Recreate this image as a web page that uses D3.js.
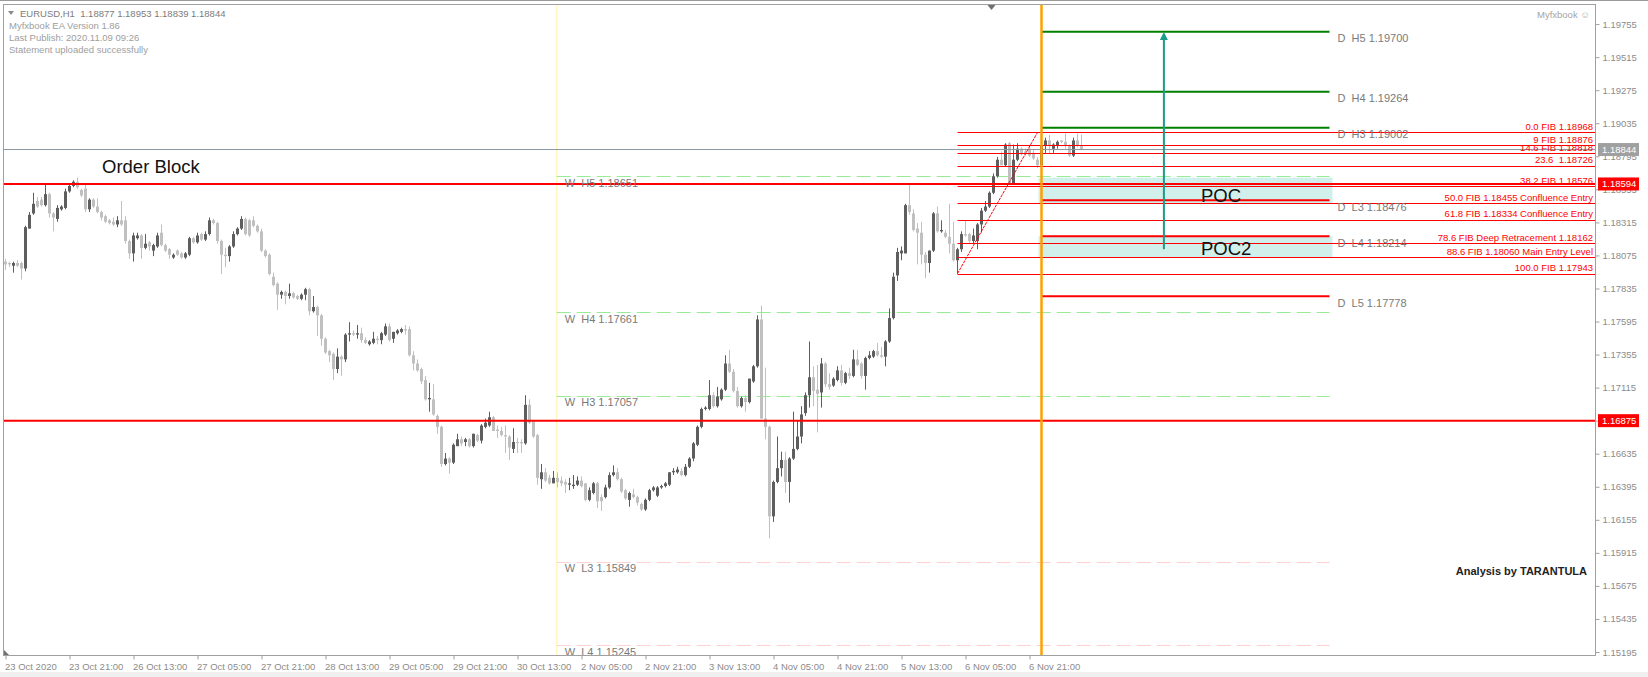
<!DOCTYPE html>
<html>
<head>
<meta charset="utf-8">
<script src="https://cdn.jsdelivr.net/npm/d3@7"></script>
<style>
  body { margin: 0; background: #fff; }
  svg { display: block; font-family: "Liberation Sans", Arial, sans-serif; }
  svg text { white-space: pre; }
</style>
</head>
<body>
<svg id="chart" width="1648" height="677"></svg>
<script>
// ---- data ----
const timeLabels = ["23 Oct 2020", "23 Oct 21:00", "26 Oct 13:00", "27 Oct 05:00", "27 Oct 21:00",
  "28 Oct 13:00", "29 Oct 05:00", "29 Oct 21:00", "30 Oct 13:00", "2 Nov 05:00", "2 Nov 21:00",
  "3 Nov 13:00", "4 Nov 05:00", "4 Nov 21:00", "5 Nov 13:00", "6 Nov 05:00", "6 Nov 21:00"];
const barsPerLabel = 16;

const priceTicks = [1.19755, 1.19515, 1.19275, 1.19035, 1.18795, 1.18555, 1.18315, 1.18075, 1.17835,
  1.17595, 1.17355, 1.17115, 1.16875, 1.16635, 1.16395, 1.16155, 1.15915, 1.15675, 1.15435, 1.15195];

// EURUSD H1, one row per bar: open, high, low, close
const candles = [
  [1.1803,1.1805,1.1797,1.1801],[1.1802,1.1803,1.1799,1.1801],[1.1800,1.1803,1.1795,1.1802],[1.1802,1.1804,1.1799,1.1800],
  [1.1802,1.1803,1.1790,1.1798],[1.1798,1.1829,1.1796,1.1828],[1.1827,1.1839,1.1827,1.1837],[1.1838,1.1853,1.1837,1.1845],
  [1.1847,1.1850,1.1842,1.1843],[1.1848,1.1850,1.1843,1.1844],[1.1844,1.1859,1.1843,1.1852],[1.1852,1.1853,1.1835,1.1838],
  [1.1838,1.1839,1.1825,1.1835],[1.1834,1.1844,1.1832,1.1842],[1.1841,1.1844,1.1840,1.1843],[1.1842,1.1856,1.1841,1.1854],
  [1.1854,1.1860,1.1853,1.1858],[1.1858,1.1862,1.1857,1.1861],[1.1861,1.1864,1.1856,1.1857],[1.1855,1.1856,1.1850,1.1851],
  [1.1856,1.1859,1.1839,1.1841],[1.1841,1.1849,1.1839,1.1848],[1.1848,1.1849,1.1842,1.1843],[1.1843,1.1849,1.1838,1.1839],
  [1.1839,1.1840,1.1833,1.1835],[1.1836,1.1837,1.1831,1.1832],[1.1833,1.1834,1.1830,1.1831],[1.1832,1.1835,1.1829,1.1830],
  [1.1830,1.1836,1.1828,1.1833],[1.1833,1.1847,1.1829,1.1830],[1.1833,1.1836,1.1816,1.1818],[1.1818,1.1819,1.1805,1.1809],
  [1.1809,1.1824,1.1803,1.1822],[1.1820,1.1824,1.1819,1.1822],[1.1822,1.1823,1.1805,1.1813],[1.1813,1.1823,1.1812,1.1816],
  [1.1817,1.1818,1.1811,1.1814],[1.1811,1.1816,1.1807,1.1815],[1.1814,1.1824,1.1813,1.1822],[1.1824,1.1830,1.1814,1.1815],
  [1.1815,1.1816,1.1810,1.1811],[1.1812,1.1813,1.1805,1.1808],[1.1806,1.1809,1.1805,1.1808],[1.1811,1.1812,1.1807,1.1808],
  [1.1809,1.1810,1.1805,1.1806],[1.1806,1.1810,1.1805,1.1809],[1.1808,1.1821,1.1807,1.1820],[1.1820,1.1821,1.1816,1.1817],
  [1.1817,1.1824,1.1816,1.1822],[1.1823,1.1824,1.1818,1.1819],[1.1819,1.1825,1.1818,1.1823],[1.1823,1.1835,1.1822,1.1833],
  [1.1833,1.1834,1.1830,1.1831],[1.1831,1.1832,1.1816,1.1818],[1.1818,1.1819,1.1794,1.1808],[1.1808,1.1813,1.1799,1.1807],
  [1.1807,1.1815,1.1803,1.1814],[1.1814,1.1825,1.1813,1.1823],[1.1823,1.1828,1.1822,1.1827],[1.1827,1.1836,1.1826,1.1834],
  [1.1834,1.1835,1.1822,1.1823],[1.1833,1.1834,1.1821,1.1822],[1.1833,1.1836,1.1828,1.1829],[1.1829,1.1830,1.1824,1.1825],
  [1.1825,1.1827,1.1810,1.1811],[1.1811,1.1812,1.1806,1.1807],[1.1808,1.1809,1.1793,1.1794],[1.1792,1.1795,1.1785,1.1786],
  [1.1787,1.1788,1.1768,1.1779],[1.1779,1.1782,1.1776,1.1781],[1.1781,1.1782,1.1772,1.1778],[1.1778,1.1787,1.1776,1.1780],
  [1.1780,1.1781,1.1776,1.1777],[1.1778,1.1779,1.1775,1.1776],[1.1776,1.1780,1.1775,1.1779],[1.1779,1.1784,1.1775,1.1783],
  [1.1783,1.1784,1.1764,1.1767],[1.1767,1.1778,1.1766,1.1770],[1.1770,1.1771,1.1749,1.1764],[1.1764,1.1765,1.1742,1.1747],
  [1.1747,1.1748,1.1736,1.1737],[1.1738,1.1739,1.1730,1.1735],[1.1736,1.1737,1.1717,1.1725],[1.1725,1.1740,1.1722,1.1734],
  [1.1734,1.1735,1.1720,1.1732],[1.1732,1.1751,1.1730,1.1750],[1.1750,1.1759,1.1745,1.1751],[1.1751,1.1753,1.1749,1.1750],
  [1.1750,1.1757,1.1747,1.1751],[1.1751,1.1755,1.1744,1.1746],[1.1746,1.1748,1.1743,1.1744],[1.1743,1.1746,1.1742,1.1745],
  [1.1744,1.1752,1.1743,1.1747],[1.1747,1.1749,1.1743,1.1746],[1.1746,1.1752,1.1743,1.1751],[1.1750,1.1758,1.1749,1.1756],
  [1.1756,1.1758,1.1745,1.1746],[1.1747,1.1752,1.1744,1.1752],[1.1751,1.1754,1.1750,1.1753],[1.1752,1.1755,1.1751,1.1754],
  [1.1754,1.1757,1.1750,1.1753],[1.1754,1.1756,1.1734,1.1735],[1.1735,1.1738,1.1724,1.1729],[1.1729,1.1732,1.1723,1.1724],
  [1.1725,1.1726,1.1714,1.1716],[1.1717,1.1720,1.1702,1.1703],[1.1703,1.1715,1.1694,1.1704],[1.1703,1.1714,1.1691,1.1692],
  [1.1691,1.1692,1.1678,1.1683],[1.1683,1.1684,1.1654,1.1656],[1.1656,1.1664,1.1655,1.1660],[1.1660,1.1661,1.1649,1.1657],
  [1.1657,1.1671,1.1656,1.1670],[1.1669,1.1678,1.1669,1.1674],[1.1674,1.1676,1.1669,1.1671],[1.1672,1.1675,1.1669,1.1674],
  [1.1674,1.1675,1.1668,1.1669],[1.1669,1.1678,1.1668,1.1678],[1.1677,1.1678,1.1672,1.1673],[1.1673,1.1685,1.1671,1.1684],
  [1.1683,1.1689,1.1682,1.1686],[1.1684,1.1694,1.1683,1.1690],[1.1690,1.1691,1.1680,1.1680],[1.1681,1.1684,1.1675,1.1680],
  [1.1680,1.1683,1.1676,1.1677],[1.1677,1.1684,1.1664,1.1676],[1.1676,1.1677,1.1659,1.1668],[1.1667,1.1682,1.1664,1.1672],
  [1.1672,1.1675,1.1664,1.1672],[1.1672,1.1674,1.1664,1.1671],[1.1671,1.1706,1.1670,1.1699],[1.1699,1.1703,1.1685,1.1686],
  [1.1687,1.1688,1.1675,1.1676],[1.1677,1.1678,1.1641,1.1646],[1.1645,1.1656,1.1638,1.1650],[1.1650,1.1653,1.1643,1.1644],
  [1.1646,1.1648,1.1641,1.1642],[1.1642,1.1651,1.1642,1.1646],[1.1646,1.1650,1.1639,1.1643],[1.1644,1.1647,1.1640,1.1642],
  [1.1643,1.1645,1.1635,1.1641],[1.1641,1.1646,1.1637,1.1642],[1.1640,1.1648,1.1638,1.1641],[1.1641,1.1647,1.1640,1.1644],
  [1.1644,1.1647,1.1639,1.1640],[1.1642,1.1642,1.1629,1.1630],[1.1630,1.1639,1.1629,1.1637],[1.1635,1.1643,1.1634,1.1642],
  [1.1642,1.1643,1.1624,1.1629],[1.1632,1.1634,1.1622,1.1629],[1.1632,1.1641,1.1631,1.1639],[1.1639,1.1650,1.1638,1.1648],
  [1.1648,1.1655,1.1647,1.1650],[1.1650,1.1653,1.1644,1.1645],[1.1645,1.1646,1.1635,1.1636],[1.1637,1.1638,1.1630,1.1631],
  [1.1630,1.1636,1.1625,1.1635],[1.1634,1.1638,1.1631,1.1632],[1.1632,1.1633,1.1626,1.1628],[1.1627,1.1628,1.1622,1.1623],
  [1.1623,1.1631,1.1622,1.1630],[1.1630,1.1638,1.1629,1.1637],[1.1637,1.1640,1.1636,1.1639],[1.1633,1.1640,1.1632,1.1639],
  [1.1639,1.1641,1.1638,1.1640],[1.1640,1.1643,1.1639,1.1642],[1.1641,1.1650,1.1640,1.1650],[1.1650,1.1653,1.1648,1.1651],
  [1.1650,1.1654,1.1649,1.1652],[1.1651,1.1653,1.1647,1.1648],[1.1648,1.1656,1.1647,1.1654],[1.1654,1.1661,1.1653,1.1660],
  [1.1660,1.1672,1.1658,1.1671],[1.1670,1.1684,1.1669,1.1683],[1.1683,1.1697,1.1682,1.1696],[1.1696,1.1698,1.1695,1.1697],
  [1.1696,1.1717,1.1695,1.1706],[1.1706,1.1708,1.1697,1.1698],[1.1698,1.1712,1.1697,1.1705],[1.1703,1.1711,1.1702,1.1710],
  [1.1710,1.1735,1.1709,1.1729],[1.1729,1.1739,1.1722,1.1723],[1.1723,1.1725,1.1708,1.1709],[1.1709,1.1712,1.1697,1.1698],
  [1.1698,1.1705,1.1697,1.1704],[1.1704,1.1706,1.1694,1.1701],[1.1701,1.1718,1.1700,1.1718],[1.1716,1.1728,1.1715,1.1727],
  [1.1727,1.1764,1.1726,1.1761],[1.1761,1.1771,1.1689,1.1689],[1.1689,1.1726,1.1674,1.1683],[1.1683,1.1684,1.1602,1.1618],
  [1.1618,1.1644,1.1614,1.1643],[1.1643,1.1676,1.1642,1.1653],[1.1653,1.1665,1.1647,1.1659],[1.1659,1.1665,1.1635,1.1643],
  [1.1643,1.1661,1.1628,1.1660],[1.1660,1.1694,1.1659,1.1667],[1.1667,1.1688,1.1666,1.1676],[1.1676,1.1698,1.1671,1.1692],
  [1.1693,1.1708,1.1691,1.1706],[1.1706,1.1745,1.1697,1.1719],[1.1719,1.1727,1.1698,1.1709],[1.1710,1.1728,1.1679,1.1707],
  [1.1708,1.1733,1.1697,1.1729],[1.1729,1.1730,1.1712,1.1714],[1.1714,1.1722,1.1710,1.1712],[1.1713,1.1719,1.1712,1.1718],
  [1.1717,1.1727,1.1716,1.1724],[1.1724,1.1728,1.1713,1.1715],[1.1715,1.1723,1.1714,1.1722],[1.1722,1.1726,1.1718,1.1720],
  [1.1720,1.1739,1.1719,1.1732],[1.1732,1.1739,1.1727,1.1728],[1.1729,1.1730,1.1718,1.1720],[1.1720,1.1734,1.1710,1.1733],
  [1.1733,1.1738,1.1732,1.1735],[1.1734,1.1739,1.1733,1.1738],[1.1738,1.1744,1.1734,1.1735],[1.1735,1.1741,1.1733,1.1734],
  [1.1734,1.1746,1.1727,1.1745],[1.1745,1.1769,1.1744,1.1762],[1.1762,1.1795,1.1761,1.1792],[1.1793,1.1813,1.1789,1.1810],
  [1.1809,1.1814,1.1804,1.1811],[1.1809,1.1845,1.1809,1.1844],[1.1844,1.1859,1.1837,1.1839],[1.1838,1.1841,1.1825,1.1826],
  [1.1827,1.1831,1.1801,1.1824],[1.1824,1.1832,1.1801,1.1808],[1.1808,1.1810,1.1791,1.1802],[1.1802,1.1811,1.1795,1.1811],
  [1.1811,1.1839,1.1810,1.1838],[1.1838,1.1843,1.1824,1.1825],[1.1825,1.1833,1.1824,1.1826],[1.1824,1.1826,1.1820,1.1821],
  [1.1821,1.1845,1.1809,1.1816],[1.1816,1.1832,1.1803,1.1804],[1.1804,1.1813,1.17943,1.1812],[1.1812,1.1825,1.1810,1.1823],
  [1.1823,1.1833,1.1821,1.1822],[1.1823,1.1824,1.1816,1.1818],[1.1818,1.1827,1.1816,1.1822],[1.1818,1.1831,1.1812,1.1830],
  [1.1830,1.1842,1.1824,1.1840],[1.1840,1.1847,1.1839,1.1843],[1.1843,1.1854,1.1842,1.1853],[1.1853,1.1867,1.1852,1.1865],
  [1.1865,1.1879,1.1864,1.1877],[1.1877,1.1883,1.1873,1.1873],[1.1873,1.1889,1.1872,1.1888],[1.1889,1.1890,1.1859,1.1860],
  [1.1860,1.1888,1.1859,1.1877],[1.1877,1.1889,1.1876,1.1885],[1.1885,1.1886,1.1880,1.1881],[1.1883,1.1885,1.1880,1.1881],
  [1.1885,1.1887,1.1879,1.1880],[1.1882,1.1884,1.1877,1.1878],[1.1877,1.1879,1.1871,1.1873],[1.1873,1.1889,1.1872,1.1887],
  [1.1887,1.1893,1.1882,1.1891],[1.1891,1.1895,1.1882,1.1887],[1.1885,1.1889,1.1882,1.1888],[1.1887,1.1891,1.1885,1.1890],
  [1.1891,1.1891,1.1889,1.1890],[1.1890,1.1896,1.1885,1.1887],[1.1887,1.1888,1.1879,1.1880],[1.1880,1.1893,1.1879,1.1891],
  [1.1891,1.1896,1.1886,1.1887],[1.18877,1.18953,1.18839,1.18844]
];

const headerLines = ["EURUSD,H1  1.18877 1.18953 1.18839 1.18844", "Myfxbook EA Version 1.86",
  "Last Publish: 2020.11.09 09:26", "Statement uploaded successfully"];
const bidPrice = 1.18844;
const keyLevels = [{ price: 1.18594, label: "Order Block" }, { price: 1.16875, label: "" }];

const weeklyPivots = [
  { name: "H5", price: 1.18651 }, { name: "H4", price: 1.17661 }, { name: "H3", price: 1.17057 },
  { name: "L3", price: 1.15849 }, { name: "L4", price: 1.15245 }];
const dailyPivots = [
  { name: "H5", price: 1.19700 }, { name: "H4", price: 1.19264 }, { name: "H3", price: 1.19002 },
  { name: "L3", price: 1.18476 }, { name: "L4", price: 1.18214 }, { name: "L5", price: 1.17778 }];

const fibLevels = [
  { price: 1.18968, label: "0.0 FIB 1.18968" }, { price: 1.18876, label: "9 FIB 1.18876" },
  { price: 1.18818, label: "14.6 FIB 1.18818" }, { price: 1.18726, label: "23.6  1.18726" },
  { price: 1.18576, label: "38.2 FIB 1.18576" }, { price: 1.18455, label: "50.0 FIB 1.18455 Confluence Entry" },
  { price: 1.18334, label: "61.8 FIB 1.18334 Confluence Entry" }, { price: 1.18162, label: "78.6 FIB Deep Retracement 1.18162" },
  { price: 1.18060, label: "88.6 FIB 1.18060 Main Entry Level" }, { price: 1.17943, label: "100.0 FIB 1.17943" }];
const fibAnchor = { fromBar: 238, fromPrice: 1.17943, toBar: 258, toPrice: 1.18968 };

const pocZones = [{ label: "POC", top: 1.18640, bottom: 1.18450 }, { label: "POC2", top: 1.18214, bottom: 1.18062 }];

const weekStartBar = 137.8, dayStartBar = 259, objectsEndBar = 331;
const arrowTrade = { bar: 289.6, from: 1.18120, to: 1.19690 };

// ---- drawing ----
const svg = d3.select("#chart");
const width = 1648, height = 677;
const plot = { left: 3, top: 4, right: 1595, bottom: 655 };

const x = d3.scaleLinear().domain([0, 256]).range([5.5, 1029.5]);
const y = d3.scaleLinear().domain([1.19755, 1.15195]).range([24.1, 652]);

svg.append("rect").attr("width", width).attr("height", height).attr("fill", "#fff");

svg.append("clipPath").attr("id", "plotClip")
  .append("rect")
  .attr("x", plot.left).attr("y", plot.top)
  .attr("width", plot.right - plot.left).attr("height", plot.bottom - plot.top);

const g = svg.append("g").attr("clip-path", "url(#plotClip)");

// week separator
g.append("line")
  .attr("x1", x(weekStartBar)).attr("x2", x(weekStartBar))
  .attr("y1", plot.top).attr("y2", plot.bottom)
  .attr("stroke", "#fff6c0").attr("stroke-width", 1.5);

// weekly pivots
g.selectAll(".wpiv").data(weeklyPivots).enter().append("line")
  .attr("x1", x(weekStartBar)).attr("x2", x(objectsEndBar))
  .attr("y1", d => Math.round(y(d.price)) + 0.5).attr("y2", d => Math.round(y(d.price)) + 0.5)
  .attr("stroke", d => d.name[0] == "H" ? "#98ec98" : "#ffd0d0")
  .attr("stroke-dasharray", "14,6");

// POC zones
g.selectAll(".poc").data(pocZones).enter().append("rect")
  .attr("x", x(dayStartBar) - 3).attr("width", x(objectsEndBar) - x(dayStartBar) + 6)
  .attr("y", d => y(d.top)).attr("height", d => y(d.bottom) - y(d.top))
  .attr("fill", "#d2f0eb");

// candles
const bar = g.selectAll(".candle").data(candles).enter().append("g");
bar.append("line")
  .attr("x1", (d, i) => x(i)).attr("x2", (d, i) => x(i))
  .attr("y1", d => y(d[1])).attr("y2", d => y(d[2]))
  .attr("stroke", d => d[3] > d[0] ? "#5e5e5e" : "#c0c0c0");
bar.append("rect")
  .attr("x", (d, i) => x(i) - 1.5).attr("width", 3)
  .attr("y", d => y(Math.max(d[0], d[3])))
  .attr("height", d => Math.max(1, Math.abs(y(d[0]) - y(d[3]))))
  .attr("fill", d => d[3] > d[0] ? "#5e5e5e" : "#c0c0c0");

// bid line
g.append("line")
  .attr("x1", plot.left).attr("x2", plot.right)
  .attr("y1", y(bidPrice)).attr("y2", y(bidPrice))
  .attr("stroke", "#8a96a3").attr("stroke-width", 1);

// key levels
g.selectAll(".key").data(keyLevels).enter().append("line")
  .attr("x1", plot.left).attr("x2", plot.right)
  .attr("y1", d => y(d.price)).attr("y2", d => y(d.price))
  .attr("stroke", "#ff0000").attr("stroke-width", 2);

// fibonacci
g.selectAll(".fib").data(fibLevels).enter().append("line")
  .attr("x1", x(fibAnchor.fromBar)).attr("x2", plot.right)
  .attr("y1", d => Math.round(y(d.price)) + 0.5).attr("y2", d => Math.round(y(d.price)) + 0.5)
  .attr("stroke", "#ff0000").attr("stroke-width", 1);
g.append("line")
  .attr("x1", x(fibAnchor.fromBar)).attr("y1", y(fibAnchor.fromPrice))
  .attr("x2", x(fibAnchor.toBar)).attr("y2", y(fibAnchor.toPrice))
  .attr("stroke", "#ff0000").attr("stroke-width", 1).attr("stroke-dasharray", "3,1");
g.selectAll(".fibtxt").data(fibLevels).enter().append("text")
  .attr("x", plot.right - 2).attr("y", d => y(d.price) - 2.5)
  .attr("text-anchor", "end").attr("fill", "#ff0000")
  .style("font-size", "9.5px").text(d => d.label);

// daily pivots
g.selectAll(".dpiv").data(dailyPivots).enter().append("line")
  .attr("x1", x(dayStartBar)).attr("x2", x(objectsEndBar))
  .attr("y1", d => y(d.price)).attr("y2", d => y(d.price))
  .attr("stroke", d => d.name[0] == "H" ? "#008000" : "#ff0000")
  .attr("stroke-width", 2);

// pivot labels
g.selectAll(".wlab").data(weeklyPivots).enter().append("text")
  .attr("x", x(weekStartBar) + 8).attr("y", d => y(d.price) + 10.5)
  .attr("fill", "#7a7a7a").style("font-size", "11px")
  .text(d => "W  " + d.name + " " + d.price.toFixed(5));
g.selectAll(".dlab").data(dailyPivots).enter().append("text")
  .attr("x", x(objectsEndBar) + 8).attr("y", d => y(d.price) + 10.5)
  .attr("fill", "#7a7a7a").style("font-size", "11px")
  .text(d => "D  " + d.name + " " + d.price.toFixed(5));

// POC labels
g.selectAll(".poclab").data(pocZones).enter().append("text")
  .attr("x", 1201).attr("y", d => y(d.bottom) - 2)
  .attr("fill", "#111").style("font-size", "18.5px").text(d => d.label);

// day separator
g.append("line")
  .attr("x1", x(dayStartBar)).attr("x2", x(dayStartBar))
  .attr("y1", plot.top).attr("y2", plot.bottom)
  .attr("stroke", "#ffa000").attr("stroke-width", 2.5);

// trade arrow
g.append("line")
  .attr("x1", x(arrowTrade.bar)).attr("x2", x(arrowTrade.bar))
  .attr("y1", y(arrowTrade.from)).attr("y2", y(arrowTrade.to) + 4)
  .attr("stroke", "#1a9c88").attr("stroke-width", 2);
g.append("path")
  .attr("d", `M${x(arrowTrade.bar)},${y(arrowTrade.to) - 1} l-4,8 l8,0 z`)
  .attr("fill", "#1a9c88");

// order block text
g.append("text").attr("x", 102).attr("y", 173)
  .attr("fill", "#111").style("font-size", "18.5px").text(keyLevels[0].label);

g.append("text").attr("x", 1587).attr("y", 575).attr("text-anchor", "end")
  .attr("fill", "#222").style("font-size", "11px").style("font-weight", "bold")
  .text("Analysis by TARANTULA");

// header
svg.append("path").attr("d", "M8,11 l6,0 l-3,4 z").attr("fill", "#8a8a8a");
svg.selectAll(".hdr").data(headerLines).enter().append("text")
  .attr("x", (d, i) => i == 0 ? 20 : 9).attr("y", (d, i) => 17 + i * 12)
  .attr("fill", (d, i) => i == 0 ? "#7c7c7c" : "#9e9e9e")
  .style("font-size", "9.5px").text(d => d);
svg.append("text").attr("x", 1590).attr("y", 18).attr("text-anchor", "end")
  .attr("fill", "#a4a4a4").style("font-size", "9.5px").text("Myfxbook \u263A");
svg.append("path").attr("d", `M${x(dayStartBar) - 54},5 l8,0 l-4,5 z`).attr("fill", "#707070");
svg.append("path").attr("d", `M${plot.left + 1},${plot.bottom} l0,-5 l5,5 z`).attr("fill", "#707070");

// frame
svg.append("rect")
  .attr("x", plot.left + 0.5).attr("y", plot.top + 0.5)
  .attr("width", plot.right - plot.left).attr("height", plot.bottom - plot.top)
  .attr("fill", "none").attr("stroke", "#a0a0a0");
svg.append("line").attr("x1", 0).attr("x2", width).attr("y1", 0.5).attr("y2", 0.5).attr("stroke", "#9a9a9a");

// axes
const xAxis = d3.axisBottom(x)
  .tickValues(timeLabels.map((d, i) => i * barsPerLabel))
  .tickFormat((d, i) => timeLabels[i])
  .tickSize(4);
const gx = svg.append("g").attr("transform", `translate(0,${plot.bottom + 0.5})`).call(xAxis);
gx.select(".domain").remove();
gx.selectAll(".tick line").attr("stroke", "#a0a0a0");
gx.selectAll(".tick text").attr("text-anchor", "start").attr("x", -1).attr("y", 14).attr("dy", null)
  .attr("fill", "#8c8c8c").style("font-size", "9.5px").style("font-family", "Liberation Sans, Arial, sans-serif");

const yAxis = d3.axisRight(y).tickValues(priceTicks).tickFormat(d3.format(".5f")).tickSize(4).tickPadding(3);
const gy = svg.append("g").attr("transform", `translate(${plot.right + 0.5},0)`).call(yAxis);
gy.select(".domain").remove();
gy.selectAll(".tick line").attr("stroke", "#a0a0a0");
gy.selectAll(".tick text").attr("fill", "#8c8c8c").style("font-size", "9.5px")
  .style("font-family", "Liberation Sans, Arial, sans-serif");

// price tags on the axis
const tags = [{ price: bidPrice, color: "#a0a0a0" }].concat(keyLevels.map(d => ({ price: d.price, color: "#ff0000" })));
const tag = svg.selectAll(".tag").data(tags).enter().append("g")
  .attr("transform", d => `translate(${plot.right + 3},${y(d.price)})`);
tag.append("rect").attr("x", 0).attr("y", -6.5).attr("width", 41).attr("height", 13).attr("fill", d => d.color);
tag.append("text").attr("x", 4).attr("y", 3.5).attr("fill", "#fff").style("font-size", "9.5px")
  .text(d => d.price.toFixed(5));

svg.append("rect").attr("x", 0).attr("y", 672).attr("width", width).attr("height", 5).attr("fill", "#f0f0f0");
</script>
</body>
</html>
